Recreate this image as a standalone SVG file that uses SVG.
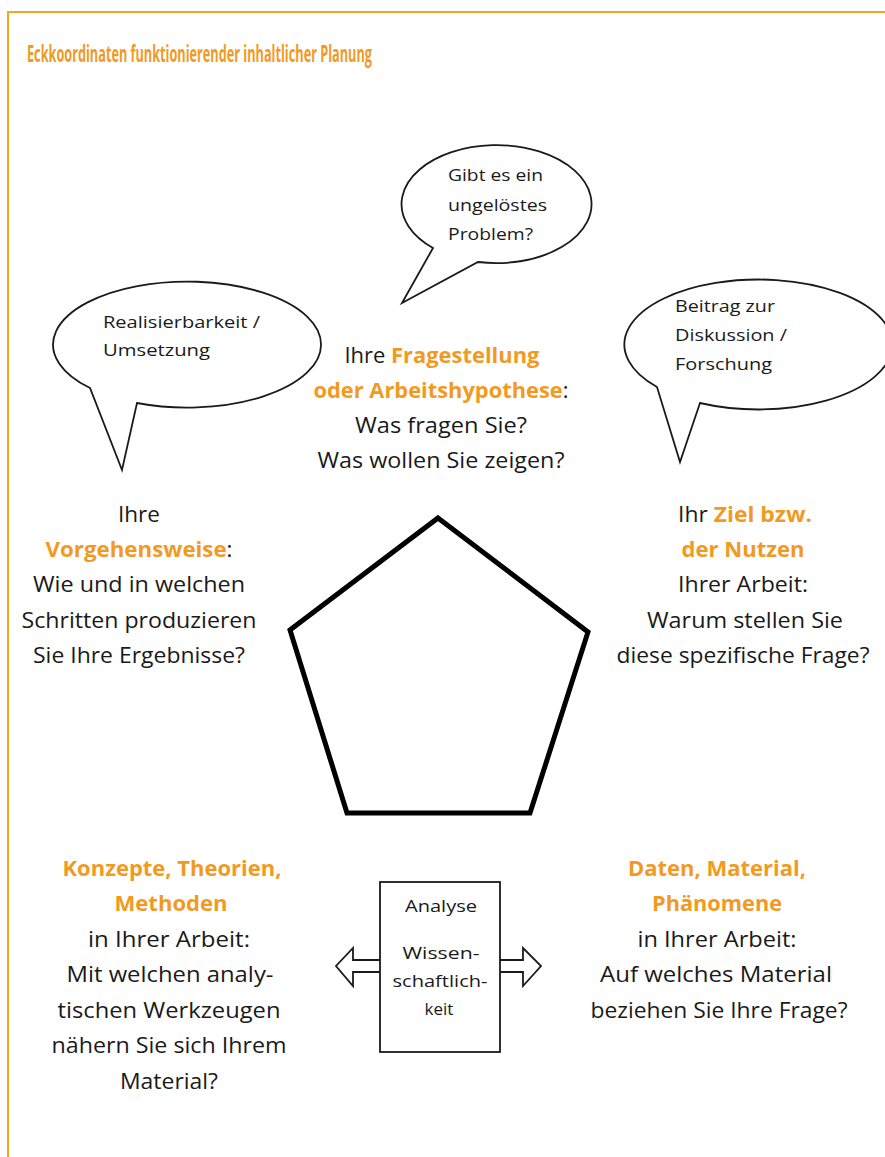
<svg xmlns="http://www.w3.org/2000/svg" width="885" height="1157" viewBox="0 0 885 1157">
<style>
.t{font-family:"Open Sans","Noto Sans","Liberation Sans",sans-serif;font-size:21px;fill:#1a1a1a;text-anchor:middle}
.o{fill:#F29A1F;font-weight:bold}
.b{font-family:"Open Sans","Noto Sans","Liberation Sans",sans-serif;font-size:17px;fill:#1a1a1a}
.bub{fill:#fff;stroke:#1a1a1a;stroke-width:1.8;stroke-linejoin:miter}
</style>
<rect width="885" height="1157" fill="#fff"/>
<g id="frame">
<path d="M8,1157 V12 H885" fill="none" stroke="#F5A623" stroke-width="2"/>
</g>
<text id="title" x="27" y="62" font-family="Open Sans, Noto Sans, Liberation Sans, sans-serif" font-size="23" font-weight="bold" fill="#F29A1F" textLength="345" lengthAdjust="spacingAndGlyphs">Eckkoordinaten funktionierender inhaltlicher Planung</text>

<g id="bubble-top">
<path class="bub" d="M433,248 A95,59 0 1 1 478,262 L402,303 Z"/>
<text class="b" x="448" y="181" textLength="95" lengthAdjust="spacingAndGlyphs">Gibt es ein</text>
<text class="b" x="448" y="211" textLength="99" lengthAdjust="spacingAndGlyphs">ungelöstes</text>
<text class="b" x="448" y="240" textLength="85" lengthAdjust="spacingAndGlyphs">Problem?</text>
</g>
<g id="bubble-left">
<path class="bub" d="M90,388 A134,63 0 1 1 137,403 L122,470 Z"/>
<text class="b" x="103" y="328" textLength="157" lengthAdjust="spacingAndGlyphs">Realisierbarkeit /</text>
<text class="b" x="103" y="356" textLength="107" lengthAdjust="spacingAndGlyphs">Umsetzung</text>
</g>
<g id="bubble-right">
<path class="bub" d="M657,387 A134,65 0 1 1 700,403 L680,462 Z"/>
<text class="b" x="675" y="312" textLength="100" lengthAdjust="spacingAndGlyphs">Beitrag zur</text>
<text class="b" x="675" y="341" textLength="112" lengthAdjust="spacingAndGlyphs">Diskussion /</text>
<text class="b" x="675" y="370" textLength="97" lengthAdjust="spacingAndGlyphs">Forschung</text>
</g>

<g id="center-question">
<text class="t" x="442" y="363" textLength="195" lengthAdjust="spacingAndGlyphs">Ihre <tspan class="o">Fragestellung</tspan></text>
<text class="t" x="441" y="398" textLength="255" lengthAdjust="spacingAndGlyphs"><tspan class="o">oder Arbeitshypothese</tspan>:</text>
<text class="t" x="441" y="433" textLength="172" lengthAdjust="spacingAndGlyphs">Was fragen Sie?</text>
<text class="t" x="441" y="468" textLength="247" lengthAdjust="spacingAndGlyphs">Was wollen Sie zeigen?</text>
</g>

<g id="pentagon">
<polygon points="438,518 588,632 530,813 347,813 290,630" fill="#fff" stroke="#000" stroke-width="5" stroke-linejoin="miter"/>
</g>

<g id="left-method">
<text class="t" x="139" y="522" textLength="42" lengthAdjust="spacingAndGlyphs">Ihre</text>
<text class="t" x="139" y="557" textLength="187" lengthAdjust="spacingAndGlyphs"><tspan class="o">Vorgehensweise</tspan>:</text>
<text class="t" x="139" y="592" textLength="212" lengthAdjust="spacingAndGlyphs">Wie und in welchen</text>
<text class="t" x="139" y="628" textLength="235" lengthAdjust="spacingAndGlyphs">Schritten produzieren</text>
<text class="t" x="139" y="663" textLength="212" lengthAdjust="spacingAndGlyphs">Sie Ihre Ergebnisse?</text>
</g>

<g id="right-goal">
<text class="t" x="745" y="522" textLength="134" lengthAdjust="spacingAndGlyphs">Ihr <tspan class="o">Ziel bzw.</tspan></text>
<text class="t" x="743" y="557" textLength="123" lengthAdjust="spacingAndGlyphs" style="fill:#F29A1F;font-weight:bold">der Nutzen</text>
<text class="t" x="743" y="592" textLength="130" lengthAdjust="spacingAndGlyphs">Ihrer Arbeit:</text>
<text class="t" x="745" y="628" textLength="196" lengthAdjust="spacingAndGlyphs">Warum stellen Sie</text>
<text class="t" x="743" y="663" textLength="253" lengthAdjust="spacingAndGlyphs">diese spezifische Frage?</text>
</g>

<g id="concepts">
<text class="t" x="172" y="876" textLength="219" lengthAdjust="spacingAndGlyphs" style="fill:#F29A1F;font-weight:bold">Konzepte, Theorien,</text>
<text class="t" x="171" y="911" textLength="113" lengthAdjust="spacingAndGlyphs" style="fill:#F29A1F;font-weight:bold">Methoden</text>
<text class="t" x="169" y="947" textLength="162" lengthAdjust="spacingAndGlyphs">in Ihrer Arbeit:</text>
<text class="t" x="170" y="982" textLength="207" lengthAdjust="spacingAndGlyphs">Mit welchen analy-</text>
<text class="t" x="169" y="1018" textLength="223" lengthAdjust="spacingAndGlyphs">tischen Werkzeugen</text>
<text class="t" x="169" y="1053" textLength="235" lengthAdjust="spacingAndGlyphs">nähern Sie sich Ihrem</text>
<text class="t" x="169" y="1089" textLength="98" lengthAdjust="spacingAndGlyphs">Material?</text>
</g>

<g id="data">
<text class="t" x="717" y="876" textLength="178" lengthAdjust="spacingAndGlyphs" style="fill:#F29A1F;font-weight:bold">Daten, Material,</text>
<text class="t" x="717" y="911" textLength="130" lengthAdjust="spacingAndGlyphs" style="fill:#F29A1F;font-weight:bold">Phänomene</text>
<text class="t" x="717" y="947" textLength="159" lengthAdjust="spacingAndGlyphs">in Ihrer Arbeit:</text>
<text class="t" x="716" y="982" textLength="232" lengthAdjust="spacingAndGlyphs">Auf welches Material</text>
<text class="t" x="719" y="1018" textLength="257" lengthAdjust="spacingAndGlyphs">beziehen Sie Ihre Frage?</text>
</g>

<g id="connectors">
<path d="M380,960 H353 V948 L336,966 L353,986 V972 H380" fill="#fff" stroke="#1a1a1a" stroke-width="1.8"/>
<path d="M500,960 H523 V948 L541,966 L523,986 V972 H500" fill="#fff" stroke="#1a1a1a" stroke-width="1.8"/>
</g>

<g id="analysis">
<rect x="380" y="882" width="120" height="170" fill="#fff" stroke="#1a1a1a" stroke-width="1.8"/>
<text class="b" x="441" y="912" text-anchor="middle" textLength="72" lengthAdjust="spacingAndGlyphs">Analyse</text>
<text class="b" x="441" y="959" text-anchor="middle" textLength="77" lengthAdjust="spacingAndGlyphs">Wissen-</text>
<text class="b" x="440" y="987" text-anchor="middle" textLength="95" lengthAdjust="spacingAndGlyphs">schaftlich-</text>
<text class="b" x="439" y="1015" text-anchor="middle">keit</text>
</g>
</svg>
